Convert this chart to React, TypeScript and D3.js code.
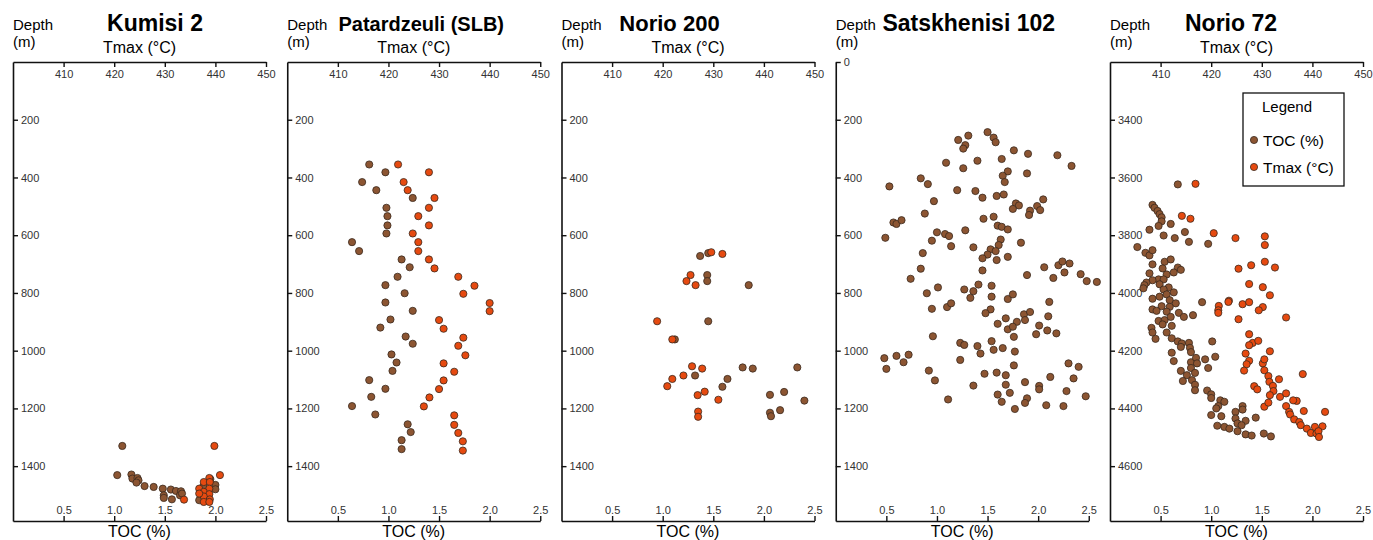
import * as d3 from 'd3';
import React, {useEffect, useRef} from 'react';

// [value, depth (m)] pairs
const kumisiToc = [
    [1.08, 1330], [1.03, 1431], [1.17, 1429], [1.18, 1443], [1.23, 1441], [1.24, 1449], [1.22, 1457],
    [1.30, 1469], [1.39, 1472], [1.48, 1478], [1.56, 1481], [1.61, 1486], [1.66, 1487], [1.49, 1501],
    [1.49, 1510], [1.57, 1515], [1.65, 1501], [1.67, 1495], [1.84, 1518], [1.95, 1445], [2.0, 1465],
    [2.0, 1480], [1.88, 1470],
];
const kumisiTmax = [
    [439.8, 1330], [440.9, 1431], [438.8, 1441], [437.7, 1455], [438.9, 1455], [436.8, 1478], [438.8, 1478],
    [437.7, 1489], [438.8, 1497], [437.7, 1505], [438.9, 1515], [437.7, 1524], [438.8, 1524], [433.8, 1516],
    [436.8, 1495],
];

const patardzeuliToc = [
    [0.81, 355], [0.97, 382], [0.74, 416], [0.88, 444], [1.24, 471], [0.98, 505], [0.99, 534], [0.99, 566],
    [0.98, 594], [0.64, 624], [0.71, 655], [1.13, 684], [1.21, 711], [1.09, 744], [0.97, 773], [1.16, 801],
    [0.97, 833], [1.24, 862], [1.02, 892], [0.92, 920], [1.17, 951], [1.24, 976], [1.03, 1013], [1.08, 1041],
    [1.04, 1070], [0.81, 1102], [0.97, 1132], [0.83, 1160], [0.64, 1192], [0.87, 1221], [1.19, 1255],
    [1.22, 1282], [1.13, 1310], [1.13, 1341],
];
const patardzeuliTmax = [
    [421.9, 355], [428.0, 382], [423.0, 416], [423.8, 444], [429.1, 471], [428.0, 505], [425.9, 534],
    [428.0, 566], [424.8, 594], [425.9, 624], [425.9, 655], [428.0, 684], [429.1, 715], [433.8, 744],
    [437.0, 775], [434.8, 803], [440.0, 835], [440.0, 863], [430.0, 894], [430.9, 924], [434.8, 955],
    [433.8, 983], [435.2, 1016], [430.9, 1044], [433.0, 1073], [430.9, 1103], [430.0, 1133], [428.1, 1162],
    [427.0, 1193], [433.0, 1224], [433.0, 1257], [433.8, 1285], [434.7, 1314], [434.7, 1346],
];

const norio200Toc = [
    [1.37, 672], [1.45, 662], [1.44, 738], [1.44, 759], [1.85, 773], [1.45, 898], [1.12, 961], [1.79, 1058],
    [1.89, 1062], [2.33, 1058], [1.32, 1086], [1.64, 1098], [1.59, 1125], [2.20, 1143], [2.06, 1153],
    [2.40, 1173], [2.16, 1206], [2.06, 1215], [2.07, 1227],
];
const norio200Tmax = [
    [429.6, 659], [431.8, 665], [425.5, 738], [424.7, 759], [426.5, 773], [418.9, 898], [421.9, 961],
    [425.8, 1054], [427.8, 1062], [424.1, 1086], [421.9, 1098], [420.9, 1123], [428.3, 1142], [426.9, 1154],
    [431.0, 1170], [427.0, 1211], [427.0, 1229],
];

const satskhenisiToc = [
    [1.50, 243], [1.21, 270], [1.31, 255], [1.56, 262], [1.58, 278], [1.28, 288], [1.26, 300], [1.76, 306],
    [1.90, 318], [2.19, 323], [1.40, 342], [1.64, 336], [1.09, 349], [2.33, 360], [1.26, 368], [1.70, 379],
    [1.89, 386], [1.65, 394], [1.67, 416], [0.84, 403], [0.91, 423], [0.53, 431], [1.20, 444], [1.38, 447],
    [1.45, 470], [1.59, 464], [1.66, 459], [2.05, 476], [0.97, 482], [1.78, 490], [1.81, 497], [1.75, 509],
    [1.99, 499], [1.92, 515], [2.02, 513], [1.91, 530], [0.88, 525], [1.56, 536], [1.46, 543], [0.57, 556],
    [0.60, 561], [0.65, 548], [1.60, 567], [1.64, 571], [1.70, 580], [1.28, 583], [1.00, 590], [1.08, 596],
    [0.49, 609], [1.12, 603], [0.95, 619], [1.36, 642], [1.14, 638], [1.63, 615], [1.61, 634], [1.53, 649],
    [1.58, 655], [1.50, 667], [1.45, 680], [1.59, 686], [1.70, 675], [1.83, 626], [0.86, 662], [0.84, 716],
    [0.74, 751], [1.45, 722], [1.89, 738], [2.06, 711], [2.15, 748], [2.20, 704], [2.24, 691], [2.31, 698],
    [2.26, 729], [2.42, 735], [2.48, 759], [2.58, 762], [0.90, 801], [1.01, 781], [1.27, 788], [1.36, 794],
    [1.41, 771], [1.33, 817], [1.54, 775], [1.54, 813], [1.70, 821], [1.75, 805], [2.11, 831], [0.95, 855],
    [1.10, 849], [1.14, 836], [1.53, 857], [1.48, 870], [1.86, 874], [1.92, 866], [2.10, 881], [1.68, 888],
    [1.60, 907], [1.79, 900], [1.87, 894], [1.70, 926], [1.75, 917], [2.01, 913], [2.09, 930], [2.18, 940],
    [1.98, 943], [1.76, 952], [0.96, 950], [1.54, 967], [1.23, 973], [1.27, 980], [1.40, 984], [1.56, 997],
    [1.65, 991], [1.43, 1010], [1.77, 1003], [0.48, 1026], [0.60, 1018], [0.72, 1014], [0.50, 1063],
    [0.67, 1040], [1.23, 1032], [1.76, 1051], [0.92, 1069], [0.98, 1103], [1.47, 1080], [1.59, 1076],
    [1.68, 1085], [1.68, 1118], [1.36, 1121], [1.87, 1109], [2.01, 1122], [2.01, 1134], [2.12, 1091],
    [2.30, 1044], [2.40, 1056], [2.35, 1096], [2.28, 1140], [2.47, 1158], [1.60, 1152], [1.72, 1146],
    [1.64, 1177], [1.89, 1165], [1.87, 1181], [1.11, 1169], [2.08, 1189], [2.25, 1192], [1.77, 1202],
];

const norio72Toc = [
    [0.67, 3624], [0.42, 3695], [0.44, 3705], [0.47, 3716], [0.49, 3727], [0.51, 3738], [0.51, 3752],
    [0.48, 3768], [0.39, 3781], [0.60, 3761], [0.74, 3789], [0.53, 3801], [0.64, 3810], [0.78, 3823],
    [0.97, 3830], [0.27, 3841], [0.35, 3861], [0.39, 3870], [0.42, 3852], [0.54, 3892], [0.60, 3884],
    [0.42, 3901], [0.52, 3915], [0.67, 3912], [0.70, 3920], [0.39, 3932], [0.56, 3936], [0.63, 3929],
    [0.48, 3953], [0.53, 3953], [0.42, 3956], [0.36, 3964], [0.34, 3973], [0.33, 3984], [0.49, 3970],
    [0.58, 3981], [0.53, 3988], [0.63, 3998], [0.49, 4013], [0.56, 4005], [0.59, 4025], [0.42, 4020],
    [0.65, 4036], [0.91, 4032], [0.42, 4057], [0.51, 4046], [0.59, 4048], [0.46, 4062], [0.56, 4065],
    [0.68, 4069], [0.73, 4083], [0.82, 4077], [0.48, 4097], [0.54, 4094], [0.60, 4083], [0.52, 4109],
    [0.61, 4114], [0.41, 4121], [0.42, 4137], [0.45, 4159], [0.56, 4137], [0.61, 4157], [0.67, 4168],
    [0.71, 4175], [0.78, 4173], [0.70, 4187], [0.79, 4190], [0.80, 4205], [1.01, 4168], [1.04, 4221],
    [0.61, 4207], [0.63, 4236], [0.80, 4240], [0.85, 4225], [0.94, 4230], [0.86, 4244], [0.80, 4260],
    [0.70, 4270], [0.97, 4260], [0.76, 4285], [0.84, 4277], [0.72, 4305], [0.81, 4302], [0.84, 4318],
    [0.84, 4337], [0.96, 4338], [1.00, 4351], [1.00, 4364], [1.09, 4372], [1.13, 4377], [1.07, 4392],
    [1.05, 4400], [1.00, 4423], [1.10, 4427], [1.24, 4412], [1.31, 4392], [1.31, 4404], [1.24, 4435],
    [1.26, 4452], [1.34, 4443], [1.30, 4458], [1.44, 4432], [1.06, 4460], [1.13, 4464], [1.18, 4470],
    [1.26, 4479], [1.34, 4490], [1.40, 4494], [1.52, 4487], [1.59, 4497],
];
const norio72Tmax = [
    [416.9, 3622], [414.2, 3733], [415.9, 3743], [420.5, 3793], [424.8, 3810], [430.6, 3804], [430.6, 3834],
    [430.6, 3892], [427.9, 3904], [425.4, 3916], [432.6, 3912], [427.5, 3969], [430.2, 3980], [431.6, 4008],
    [423.5, 4027], [421.5, 4045], [426.2, 4039], [427.5, 4032], [430.2, 4049], [421.4, 4060], [421.4, 4069],
    [423.4, 4031], [429.4, 4060], [425.4, 4091], [434.8, 4085], [427.5, 4143], [428.2, 4173], [427.5, 4181],
    [429.3, 4166], [431.6, 4202], [426.8, 4210], [427.5, 4235], [427.0, 4247], [426.5, 4269], [430.2, 4244],
    [430.5, 4230], [430.5, 4268], [431.3, 4288], [431.5, 4308], [432.2, 4322], [432.3, 4340], [431.6, 4354],
    [433.4, 4299], [433.6, 4360], [428.5, 4323], [429.1, 4334], [430.5, 4394], [431.3, 4380], [434.8, 4348],
    [438.1, 4281], [434.8, 4392], [435.4, 4412], [436.9, 4374], [436.2, 4372], [435.6, 4421], [436.4, 4438],
    [437.4, 4447], [438.3, 4409], [437.7, 4458], [438.9, 4470], [439.7, 4485], [440.5, 4464], [440.8, 4487],
    [442.0, 4462], [441.2, 4479], [441.3, 4499], [442.5, 4412],
];

const tocTicks = [0.5, 1.0, 1.5, 2.0, 2.5];
const tmaxTicks = [410, 420, 430, 440, 450];
const shallowDepthTicks = [200, 400, 600, 800, 1000, 1200, 1400];
const satskhenisiDepthTicks = [0, 200, 400, 600, 800, 1000, 1200, 1400];
const norio72DepthTicks = [3400, 3600, 3800, 4000, 4200, 4400, 4600];

const wells = [
    {name: 'Kumisi 2', toc: kumisiToc, tmax: kumisiTmax, depthTop: 0, depthTicks: shallowDepthTicks, titleX: 142, titleSize: 23},
    {name: 'Patardzeuli (SLB)', toc: patardzeuliToc, tmax: patardzeuliTmax, depthTop: 0, depthTicks: shallowDepthTicks, titleX: 134, titleSize: 20},
    {name: 'Norio 200', toc: norio200Toc, tmax: norio200Tmax, depthTop: 0, depthTicks: shallowDepthTicks, titleX: 108, titleSize: 22},
    {name: 'Satskhenisi 102', toc: satskhenisiToc, tmax: [], depthTop: 0, depthTicks: satskhenisiDepthTicks, titleX: 133, titleSize: 23},
    {name: 'Norio 72', toc: norio72Toc, tmax: norio72Tmax, depthTop: 3200, depthTicks: norio72DepthTicks, titleX: 121, titleSize: 23},
];

const TOC_COLOR = '#8c5532';
const TMAX_COLOR = '#e64a10';
const FONT = 'Liberation Sans, Arial, sans-serif';

function Chart() {
    const ref = useRef(null);

    useEffect(() => {
        const svg = d3.select(ref.current);
        svg.selectAll('*').remove();

        const top = 62, bottom = 521, panelWidth = 253, step = 274.25, firstLeft = 13;
        const depthSpan = 1590;

        wells.forEach((w, i) => {
            const left = firstLeft + i * step;
            const g = svg.append('g').attr('transform', `translate(${left},0)`);

            const x = d3.scaleLinear().domain([0, 2.5]).range([0, panelWidth]);
            const xT = d3.scaleLinear().domain([400, 450]).range([0, panelWidth]);
            const y = d3.scaleLinear().domain([w.depthTop, w.depthTop + depthSpan]).range([top, bottom]);

            // labels
            g.append('text').attr('x', 0).attr('y', 30).text('Depth')
                .style('font-size', '15px');
            g.append('text').attr('x', 0).attr('y', 47).text('(m)')
                .style('font-size', '15px');
            g.append('text').attr('x', w.titleX).attr('y', 31).attr('text-anchor', 'middle')
                .style('font-size', `${w.titleSize}px`).style('font-weight', 'bold').text(w.name);
            g.append('text').attr('x', panelWidth / 2).attr('y', 537).attr('text-anchor', 'middle')
                .style('font-size', '16px').text('TOC (%)');

            // left depth axis (ticks inward)
            const yAxis = d3.axisRight(y).tickValues(w.depthTicks).tickSize(5).tickSizeOuter(0).tickPadding(3)
                .tickFormat(d3.format('d'));
            g.append('g').attr('class', 'axis').call(yAxis);

            // bottom TOC axis
            const xAxis = d3.axisTop(x).tickValues(tocTicks).tickSize(5).tickSizeOuter(0).tickPadding(2)
                .tickFormat(d3.format('.1f'));
            g.append('g').attr('class', 'axis').attr('transform', `translate(0,${bottom})`).call(xAxis);

            // top Tmax axis
            if (w.tmax.length) {
                g.append('text').attr('x', panelWidth / 2).attr('y', 53).attr('text-anchor', 'middle')
                    .style('font-size', '16px').text('Tmax (°C)');
                const tAxis = d3.axisBottom(xT).tickValues(tmaxTicks).tickSize(5).tickSizeOuter(0).tickPadding(3.5)
                    .tickFormat(d3.format('d'));
                g.append('g').attr('class', 'axis').attr('transform', `translate(0,${top})`).call(tAxis);
            }

            g.selectAll('.axis path').attr('stroke', '#111').attr('stroke-width', 1.6);
            g.selectAll('.axis line').attr('stroke', '#111').attr('stroke-width', 1.4);
            g.selectAll('.axis text').attr('fill', '#333').style('font-size', '11px').style('font-family', FONT);

            g.selectAll('circle.toc').data(w.toc).enter().append('circle')
                .attr('class', 'toc')
                .attr('cx', (d) => x(d[0]))
                .attr('cy', (d) => y(d[1]))
                .attr('r', 3.6)
                .attr('fill', TOC_COLOR)
                .attr('stroke', '#3a2a1e')
                .attr('stroke-width', 0.8);

            g.selectAll('circle.tmax').data(w.tmax).enter().append('circle')
                .attr('class', 'tmax')
                .attr('cx', (d) => xT(d[0]))
                .attr('cy', (d) => y(d[1]))
                .attr('r', 3.6)
                .attr('fill', TMAX_COLOR)
                .attr('stroke', '#3a2a1e')
                .attr('stroke-width', 0.8);
        });

        // legend
        const lg = svg.append('g').attr('transform', 'translate(1243,93)');
        lg.append('rect').attr('width', 101).attr('height', 93)
            .attr('fill', 'white').attr('stroke', '#111').attr('stroke-width', 1.3);
        lg.append('text').attr('x', 19).attr('y', 19).style('font-size', '15px').text('Legend');
        [['TOC (%)', TOC_COLOR], ['Tmax (°C)', TMAX_COLOR]].forEach((e, i) => {
            lg.append('circle').attr('cx', 11).attr('cy', 47 + i * 27).attr('r', 3.6)
                .attr('fill', e[1]).attr('stroke', '#3a2a1e').attr('stroke-width', 0.8);
            lg.append('text').attr('x', 20).attr('y', 53 + i * 27).style('font-size', '15.5px').text(e[0]);
        });
    }, []);

    return (
        <svg ref={ref} width={1373} height={540}
             style={{position: 'absolute', left: 0, top: 0, fontFamily: FONT, background: 'white'}} />
    );
}

export default function App() {
    return <Chart />;
}
